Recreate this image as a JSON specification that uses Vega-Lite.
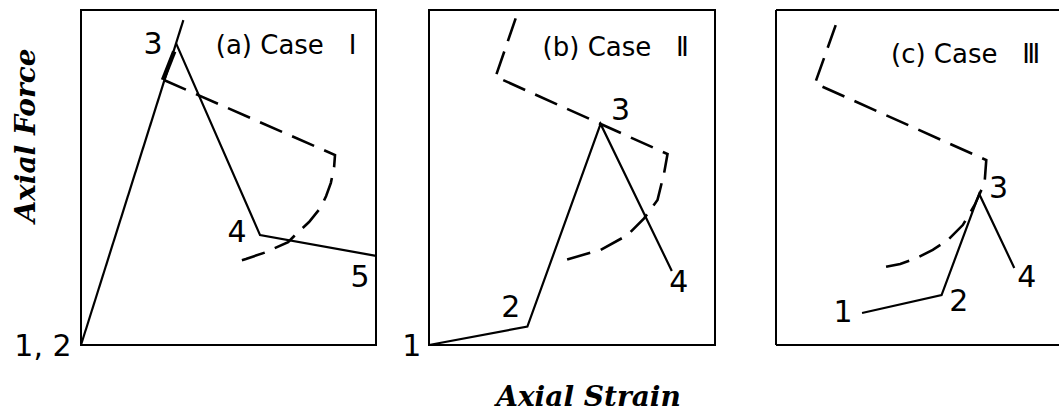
{
  "$schema": "https://vega.github.io/schema/vega-lite/v6.json",
  "background": "white",
  "padding": {"left": 11, "top": 9, "right": 0, "bottom": 0},
  "config": {
    "view": {"stroke": "black", "strokeWidth": 2},
    "line": {"color": "black", "strokeWidth": 2.2, "strokeCap": "butt", "strokeJoin": "miter"},
    "rule": {"color": "black", "strokeWidth": 2},
    "text": {"font": "DejaVu Sans", "color": "black", "align": "center", "baseline": "middle"}
  },
  "spacing": 59,
  "bounds": "full",
  "hconcat": [
    {
      "spacing": 53,
      "bounds": "flush",
      "hconcat": [
        {
          "width": 295,
          "height": 335,
          "data": {"values": [
            {"path": "elastic", "style": "solid", "i": 0, "strain": 0, "force": 0},
            {"path": "elastic", "style": "solid", "i": 1, "strain": 34.7, "force": 97.0},
            {"path": "softening", "style": "solid", "i": 0, "strain": 32.2, "force": 90.1},
            {"path": "softening", "style": "solid", "i": 1, "strain": 60.7, "force": 32.8},
            {"path": "softening", "style": "solid", "i": 2, "strain": 100, "force": 26.6},
            {"path": "overlap", "style": "thick", "i": 0, "strain": 27.8, "force": 79.1},
            {"path": "overlap", "style": "thick", "i": 1, "strain": 31.6, "force": 87.6},
            {"path": "surface", "style": "dashed", "i": 0, "strain": 28.1, "force": 79.1},
            {"path": "surface", "style": "dashed", "i": 1, "strain": 86.1, "force": 56.7},
            {"path": "surface", "style": "dashed", "i": 2, "strain": 85.8, "force": 53.1},
            {"path": "surface", "style": "dashed", "i": 3, "strain": 84.7, "force": 48.4},
            {"path": "surface", "style": "dashed", "i": 4, "strain": 83.1, "force": 44.5},
            {"path": "surface", "style": "dashed", "i": 5, "strain": 81.4, "force": 41.2},
            {"path": "surface", "style": "dashed", "i": 6, "strain": 77.3, "force": 36.7},
            {"path": "surface", "style": "dashed", "i": 7, "strain": 72.9, "force": 33.1},
            {"path": "surface", "style": "dashed", "i": 8, "strain": 70.2, "force": 30.7},
            {"path": "surface", "style": "dashed", "i": 9, "strain": 62.0, "force": 27.5},
            {"path": "surface", "style": "dashed", "i": 10, "strain": 55.9, "force": 25.7},
            {"path": "surface", "style": "dashed", "i": 11, "strain": 51.5, "force": 24.5}
          ]},
          "encoding": {
            "x": {"field": "strain", "type": "quantitative", "scale": {"domain": [0, 100]}, "axis": null},
            "y": {"field": "force", "type": "quantitative", "scale": {"domain": [0, 100]},
              "axis": {"title": "Axial Force", "domain": false, "ticks": false, "labels": false, "grid": false,
                "titleFont": "DejaVu Serif", "titleFontStyle": "italic", "titleFontWeight": "bold", "titleFontSize": 28,
                "titleColor": "black", "titleAngle": 270, "titleAlign": "center", "titleBaseline": "middle",
                "titleX": -55, "titleY": 125}}
          },
          "layer": [
            {"transform": [{"filter": "datum.style === 'solid'"}], "mark": {"type": "line"},
             "encoding": {"detail": {"field": "path"}, "order": {"field": "i"}}},
            {"transform": [{"filter": "datum.style === 'thick'"}], "mark": {"type": "line", "strokeWidth": 4.5},
             "encoding": {"detail": {"field": "path"}, "order": {"field": "i"}}},
            {"transform": [{"filter": "datum.style === 'dashed'"}], "mark": {"type": "line", "strokeDash": [24, 11], "strokeWidth": 2.6},
             "encoding": {"detail": {"field": "path"}, "order": {"field": "i"}}},
            {"data": {"values": [
              {"label": "1, 2", "strain": -12.9, "force": -0.6},
              {"label": "3", "strain": 24.4, "force": 89.6},
              {"label": "4", "strain": 52.9, "force": 33.4},
              {"label": "5", "strain": 94.6, "force": 20.0}
             ]},
             "mark": {"type": "text", "fontSize": 30},
             "encoding": {"text": {"field": "label"}}},
            {"data": {"values": [{"label": "(a) Case\u00a0\u00a0 Ⅰ", "strain": 69.5, "force": 89.3}]},
             "mark": {"type": "text", "fontSize": 26},
             "encoding": {"text": {"field": "label"}}}
          ]
        },
        {
          "width": 286,
          "height": 335,
          "data": {"values": [
            {"path": "response", "style": "solid", "i": 0, "strain": 0, "force": 0},
            {"path": "response", "style": "solid", "i": 1, "strain": 34.4, "force": 5.5},
            {"path": "response", "style": "solid", "i": 2, "strain": 60.0, "force": 66.0},
            {"path": "response", "style": "solid", "i": 3, "strain": 84.9, "force": 22.1},
            {"path": "surface", "style": "dashed", "i": 0, "strain": 30.3, "force": 97.5},
            {"path": "surface", "style": "dashed", "i": 1, "strain": 23.3, "force": 80.1},
            {"path": "surface", "style": "dashed", "i": 2, "strain": 83.4, "force": 57.0},
            {"path": "surface", "style": "dashed", "i": 3, "strain": 82.2, "force": 51.3},
            {"path": "surface", "style": "dashed", "i": 4, "strain": 79.9, "force": 43.3},
            {"path": "surface", "style": "dashed", "i": 5, "strain": 75.2, "force": 37.8},
            {"path": "surface", "style": "dashed", "i": 6, "strain": 69.4, "force": 32.8},
            {"path": "surface", "style": "dashed", "i": 7, "strain": 60.0, "force": 28.4},
            {"path": "surface", "style": "dashed", "i": 8, "strain": 47.8, "force": 25.4}
          ]},
          "encoding": {
            "x": {"field": "strain", "type": "quantitative", "scale": {"domain": [0, 100]},
              "axis": {"title": "Axial Strain", "domain": false, "ticks": false, "labels": false, "grid": false,
                "titleFont": "DejaVu Serif", "titleFontStyle": "italic", "titleFontWeight": "bold", "titleFontSize": 28,
                "titleColor": "black", "titleAlign": "center", "titleBaseline": "alphabetic",
                "titleX": 159, "titleY": 60}},
            "y": {"field": "force", "type": "quantitative", "scale": {"domain": [0, 100]}, "axis": null}
          },
          "layer": [
            {"transform": [{"filter": "datum.style === 'solid'"}], "mark": {"type": "line"},
             "encoding": {"detail": {"field": "path"}, "order": {"field": "i"}}},
            {"transform": [{"filter": "datum.style === 'dashed'"}], "mark": {"type": "line", "strokeDash": [24, 11], "strokeWidth": 2.6},
             "encoding": {"detail": {"field": "path"}, "order": {"field": "i"}}},
            {"data": {"values": [
              {"label": "1", "strain": -6.0, "force": -0.6},
              {"label": "2", "strain": 28.6, "force": 11.0},
              {"label": "3", "strain": 67.0, "force": 69.9},
              {"label": "4", "strain": 87.3, "force": 18.5}
             ]},
             "mark": {"type": "text", "fontSize": 30},
             "encoding": {"text": {"field": "label"}}},
            {"data": {"values": [{"label": "(b) Case\u00a0\u00a0 Ⅱ", "strain": 65.3, "force": 88.7}]},
             "mark": {"type": "text", "fontSize": 26},
             "encoding": {"text": {"field": "label"}}}
          ]
        }
      ]
    },
    {
      "width": 283,
      "height": 335,
      "view": {"stroke": null},
      "data": {"values": [
        {"path": "response", "style": "solid", "i": 0, "strain": 30.4, "force": 9.55},
        {"path": "response", "style": "solid", "i": 1, "strain": 58.5, "force": 14.9},
        {"path": "response", "style": "solid", "i": 2, "strain": 71.8, "force": 45.1},
        {"path": "response", "style": "solid", "i": 3, "strain": 84.2, "force": 23.0},
        {"path": "surface", "style": "dashed", "i": 0, "strain": 21.1, "force": 95.5},
        {"path": "surface", "style": "dashed", "i": 1, "strain": 13.8, "force": 78.1},
        {"path": "surface", "style": "dashed", "i": 2, "strain": 74.3, "force": 55.2},
        {"path": "surface", "style": "dashed", "i": 3, "strain": 73.7, "force": 48.4},
        {"path": "surface", "style": "dashed", "i": 4, "strain": 70.2, "force": 41.8},
        {"path": "surface", "style": "dashed", "i": 5, "strain": 66.0, "force": 35.8},
        {"path": "surface", "style": "dashed", "i": 6, "strain": 60.7, "force": 31.3},
        {"path": "surface", "style": "dashed", "i": 7, "strain": 55.4, "force": 28.4},
        {"path": "surface", "style": "dashed", "i": 8, "strain": 49.8, "force": 26.0},
        {"path": "surface", "style": "dashed", "i": 9, "strain": 43.9, "force": 24.2},
        {"path": "surface", "style": "dashed", "i": 10, "strain": 38.6, "force": 23.3}
      ]},
      "layer": [
        {"transform": [{"filter": "datum.style === 'solid'"}], "mark": {"type": "line"},
         "encoding": {
           "x": {"field": "strain", "type": "quantitative", "scale": {"domain": [0, 100]}, "axis": null},
           "y": {"field": "force", "type": "quantitative", "scale": {"domain": [0, 100]}, "axis": null},
           "detail": {"field": "path"}, "order": {"field": "i"}}},
        {"transform": [{"filter": "datum.style === 'dashed'"}], "mark": {"type": "line", "strokeDash": [24, 11], "strokeWidth": 2.6},
         "encoding": {
           "x": {"field": "strain", "type": "quantitative"},
           "y": {"field": "force", "type": "quantitative"},
           "detail": {"field": "path"}, "order": {"field": "i"}}},
        {"data": {"values": [{"edge": "top"}]}, "mark": {"type": "rule"},
         "encoding": {"y": {"datum": 100, "type": "quantitative"}}},
        {"data": {"values": [{"edge": "bottom"}]}, "mark": {"type": "rule"},
         "encoding": {"y": {"datum": 0, "type": "quantitative"}}},
        {"data": {"values": [{"edge": "left"}]}, "mark": {"type": "rule"},
         "encoding": {"x": {"datum": 0, "type": "quantitative"}}},
        {"data": {"values": [
          {"label": "1", "strain": 23.7, "force": 9.5},
          {"label": "2", "strain": 64.6, "force": 12.7},
          {"label": "3", "strain": 78.6, "force": 46.6},
          {"label": "4", "strain": 88.6, "force": 20.1}
         ]},
         "mark": {"type": "text", "fontSize": 30},
         "encoding": {
           "x": {"field": "strain", "type": "quantitative"},
           "y": {"field": "force", "type": "quantitative"},
           "text": {"field": "label"}}},
        {"data": {"values": [{"label": "(c) Case\u00a0\u00a0 Ⅲ", "strain": 67.0, "force": 86.6}]},
         "mark": {"type": "text", "fontSize": 26},
         "encoding": {
           "x": {"field": "strain", "type": "quantitative"},
           "y": {"field": "force", "type": "quantitative"},
           "text": {"field": "label"}}}
      ]
    }
  ]
}
